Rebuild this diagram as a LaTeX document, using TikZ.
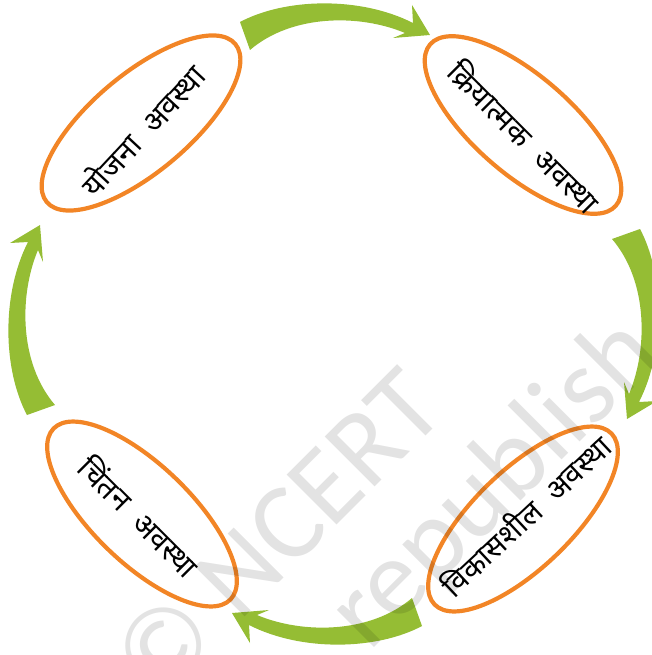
\documentclass[tikz,border=0pt]{standalone}
\usepackage{fontspec}
\usetikzlibrary{shapes.geometric}
\newfontfamily\deva[Script=Devanagari]{Noto Sans}
\newfontfamily\wmfont{Carlito}
\definecolor{ringorange}{RGB}{242,133,38}
\definecolor{arrowgreen}{RGB}{149,189,52}
\newcommand{\gap}{\hspace{0.55em}}
\begin{document}
\begin{tikzpicture}[x=1pt,y=1pt,
  stage/.style={draw=ringorange,line width=4.2pt,ellipse,minimum width=246pt,minimum height=98pt,inner sep=0pt},
  stagetext/.style={font=\deva\fontsize{30}{36}\selectfont,text=black,inner sep=0pt},
  flow/.style={fill=arrowgreen},
  wm/.style={font=\wmfont\fontsize{110}{120}\selectfont,text=black,opacity=0.11,inner sep=0pt,rotate=45}]
\useasboundingbox (0,0) rectangle (652,-655);
\clip (0,0) rectangle (652,-655);
% stages
\node[stage,rotate=40] (s1) at (141,-123) {};
\node[stage,rotate=-41] (s2) at (523,-125) {};
\node[stage,rotate=44] (s3) at (523,-519) {};
\node[stage,rotate=-44] (s4) at (142,-514) {};
\node[stagetext,rotate=47] (t1) at (142,-130) {योजना\gap अवस्था};
\node[stagetext,rotate=-45] (t2) at (525,-136) {क्रियात्मक\gap अवस्था};
\node[stagetext,rotate=43] (t3) at (525,-515) {विकासशील\gap अवस्था};
\node[stagetext,rotate=-45] (t4) at (140,-516) {चिंतन\gap अवस्था};
% curved arrows
\foreach \ang/\dx/\dy in {0/0/0,-90/7/4,180/0/0,90/-2/0}{
  \begin{scope}[shift={(\dx,\dy)},rotate around={\ang:(331,-324)}]
    \fill[flow] (240,-22) .. controls (285,2) and (360,4) .. (413,-23)
      -- (412,-5) -- (430,-35) -- (393,-38) -- (405,-33)
      .. controls (360,-14) and (292,-14) .. (250,-50) -- cycle;
  \end{scope}
}
% watermark
\node[wm,anchor=base east] (w1) at (449,-413) {© NCERT};
\node[wm,anchor=base west] (w2) at (369,-653) {republish};
\end{tikzpicture}
\end{document}
